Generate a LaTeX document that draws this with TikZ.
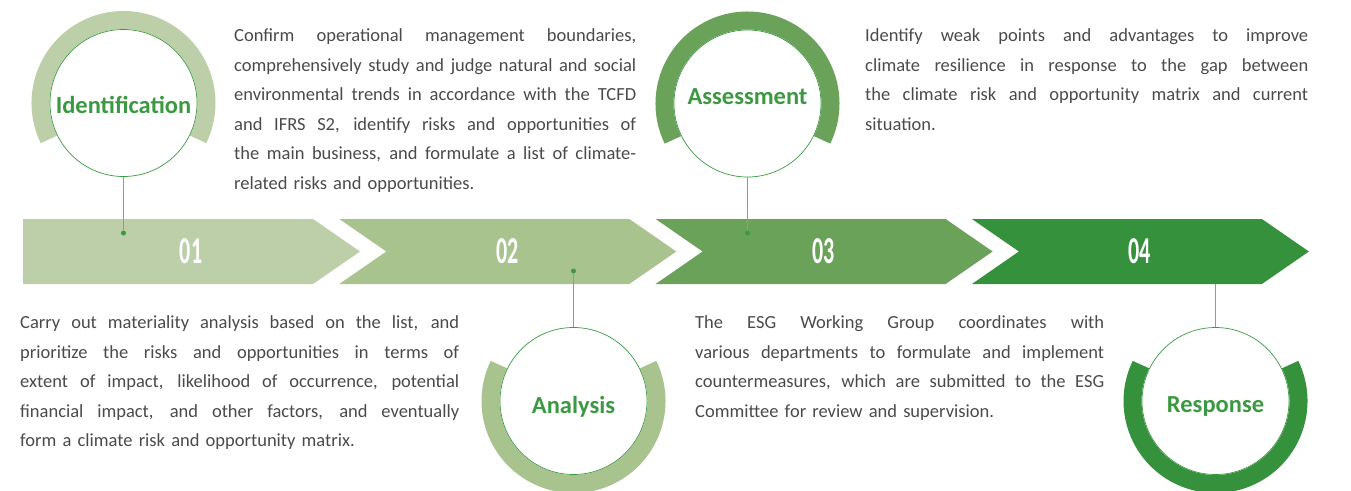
\documentclass[tikz,border=0pt]{standalone}
\usepackage{fontspec}
\setmainfont{Carlito}
\usetikzlibrary{calc}

\definecolor{stepA}{HTML}{BCCFA8}
\definecolor{stepB}{HTML}{A9C38F}
\definecolor{stepC}{HTML}{6BA259}
\definecolor{stepD}{HTML}{35913C}
\definecolor{titlegreen}{HTML}{3B9A41}
\definecolor{linkgreen}{HTML}{6DB46D}
\definecolor{textgrey}{HTML}{4A4A4A}

% one justified line of a description
\newcommand{\jl}[1]{\hbox to\hsize{\spaceskip=0.23em plus 1fil\xspaceskip=0.23em plus 1fil\relax #1}}

\begin{document}
\begin{tikzpicture}[x=1pt, y=-1pt,
		ring/.style={line width=18pt},
		stepcircle/.style={circle, draw=titlegreen, line width=0.7pt, fill=white, minimum size=147pt, inner sep=0pt},
		title/.style={text=titlegreen, font=\fontsize{24.5}{24.5}\selectfont\bfseries, text depth=0pt},
		number/.style={text=white, font=\fontsize{38}{38}\selectfont\bfseries, inner sep=0pt},
		desc/.style={text=textgrey, font=\fontsize{18.5}{29.5}\selectfont, anchor=base west, inner sep=0pt},
		dot/.style={circle, fill=titlegreen, minimum size=5pt, inner sep=0pt},
		link/.style={draw=linkgreen, line width=1pt}]
		\useasboundingbox (0,0) rectangle (1351,490);

		% arrows
		\fill[stepA] (23,219) -- (313,219) -- (360,251.5) -- (313,284) -- (23,284) -- cycle;
		\foreach \i/\col in {1/stepB,2/stepC,3/stepD}
			\fill[\col] ({23+316.3*\i},219) -- ++(290,0) -- ++(47,32.5) -- ++(-47,32.5) -- ++(-290,0) -- ++(47,-32.5) -- cycle;
		\foreach \i/\n in {0/01,1/02,2/03,3/04}
			\node[number] (num\n) at ({191+316.3*\i},251.5) {\scalebox{0.58}[1]{\n}};

		% rings
		\draw[ring, stepA] (123.5,103) ++(154:83) arc[start angle=154, end angle=386, radius=83];
		\draw[ring, stepB] (573.5,401) ++(-26:83) arc[start angle=-26, end angle=206, radius=83];
		\draw[ring, stepC] (747.5,103.5) ++(154:83) arc[start angle=154, end angle=386, radius=83];
		\draw[ring, stepD] (1215.5,401) ++(-26:83) arc[start angle=-26, end angle=206, radius=83];

		% circles
		\node[stepcircle] (ident) at (123.5,103) {};
		\node[stepcircle] (analysis) at (573.5,401) {};
		\node[stepcircle] (assess) at (747.5,103.5) {};
		\node[stepcircle] (response) at (1215.5,401) {};
		\node[title] (identtext) at ([yshift=-1.5pt]ident.center) {Identification};
		\node[title] (analysistext) at ([yshift=-3.5pt]analysis.center) {Analysis};
		\node[title] (assesstext) at ([yshift=7pt]assess.center) {Assessment};
		\node[title] (responsetext) at ([yshift=-3.5pt]response.center) {Response};

		% connectors
		\node[dot] (dotA) at (123.5,233) {};
		\node[dot] (dotB) at (573.5,271) {};
		\node[dot] (dotC) at (747.5,233) {};
		\coordinate (dotD) at (1215.5,284);
		\draw[link] (ident) -- (dotA);
		\draw[link] (analysis) -- (dotB);
		\draw[link] (assess) -- (dotC);
		\draw[link] (response) -- (dotD);

		% descriptions
		\node[desc, text width=402pt] (identdesc) at (234,41.5) {%
			\jl{Confirm operational management boundaries,}
			\jl{comprehensively study and judge natural and social}
			\jl{environmental trends in accordance with the TCFD}
			\jl{and IFRS S2, identify risks and opportunities of}
			\jl{the main business, and formulate a list of climate-}
			\hbox{related risks and opportunities.}};
		\node[desc, text width=443pt] (assessdesc) at (865,41.5) {%
			\jl{Identify weak points and advantages to improve}
			\jl{climate resilience in response to the gap between}
			\jl{the climate risk and opportunity matrix and current}
			\hbox{situation.}};
		\node[desc, text width=439pt] (analysisdesc) at (20,328.5) {%
			\jl{Carry out materiality analysis based on the list, and}
			\jl{prioritize the risks and opportunities in terms of}
			\jl{extent of impact, likelihood of occurrence, potential}
			\jl{financial impact, and other factors, and eventually}
			\hbox{form a climate risk and opportunity matrix.}};
		\node[desc, text width=409pt] (responsedesc) at (695,328.5) {%
			\jl{The ESG Working Group coordinates with}
			\jl{various departments to formulate and implement}
			\jl{countermeasures, which are submitted to the ESG}
			\hbox{Committee for review and supervision.}};
	\end{tikzpicture}
\end{document}
